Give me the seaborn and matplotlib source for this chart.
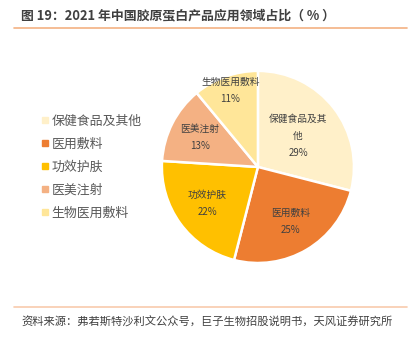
import numpy as np
import matplotlib
matplotlib.use("Agg")
import matplotlib.pyplot as plt
from matplotlib.lines import Line2D
import seaborn as sns

categories = ["保健食品及其他", "医用敷料", "功效护肤", "医美注射", "生物医用敷料"]
slice_labels = ["保健食品及其\n他", "医用敷料", "功效护肤", "医美注射", "生物医用敷料"]
values = [29, 25, 22, 13, 11]
colors = ["#FFF0C9", "#ED7D31", "#FFC000", "#F4B183", "#FFE699"]
label_dist = [0.53, 0.66, 0.65, 0.68, 0.85]

title = "图 19：2021 年中国胶原蛋白产品应用领域占比（ % ）"
source = "资料来源：弗若斯特沙利文公众号，巨子生物招股说明书，天风证券研究所"

sns.set_theme(style="white")
plt.rcParams['font.family'] = ['Noto Sans CJK SC', 'DejaVu Sans']

fig = plt.figure(figsize=(4.14, 3.40), dpi=100)
ax = fig.add_axes([0.623 - 0.2343, 0.509 - 0.2853, 0.4686, 0.5706])

wedges, _ = ax.pie(values, colors=colors, startangle=90, counterclock=False,
                   wedgeprops=dict(edgecolor="white", linewidth=1.8))
ax.set_aspect("equal")
ax.set_xlim(-1.01, 1.01)
ax.set_ylim(-1.01, 1.01)

for w, lab, v, d in zip(wedges, slice_labels, values, label_dist):
    ang = np.deg2rad((w.theta1 + w.theta2) / 2)
    x, y = d * np.cos(ang), d * np.sin(ang)
    ax.text(x, y, f"{lab}\n{v}%", ha="center", va="center", fontsize=7,
            color="#404040", linespacing=1.85)

handles = [Line2D([0], [0], marker="s", linestyle="", markersize=4,
                  markerfacecolor=c, markeredgecolor=c) for c in colors]
fig.legend(handles, categories, loc="upper left", bbox_to_anchor=(0.072, 0.697),
           frameon=False, fontsize=9.3, labelcolor="#595959", handlelength=0.5,
           handletextpad=0.3, labelspacing=0.78)

fig.text(0.05, 0.955, title, fontsize=9.3, fontweight="bold", color="#404040",
         ha="left", va="center")
fig.add_artist(Line2D([0.035, 0.983], [0.917, 0.917], color="#F4B183", linewidth=1.2,
                      transform=fig.transFigure))
fig.add_artist(Line2D([0.035, 0.983], [0.097, 0.097], color="#F8CBAD", linewidth=1.2,
                      transform=fig.transFigure))
fig.text(0.053, 0.053, source, fontsize=8.1, color="#404040", ha="left", va="center")

fig.savefig("out.png", dpi=100, facecolor="white")
